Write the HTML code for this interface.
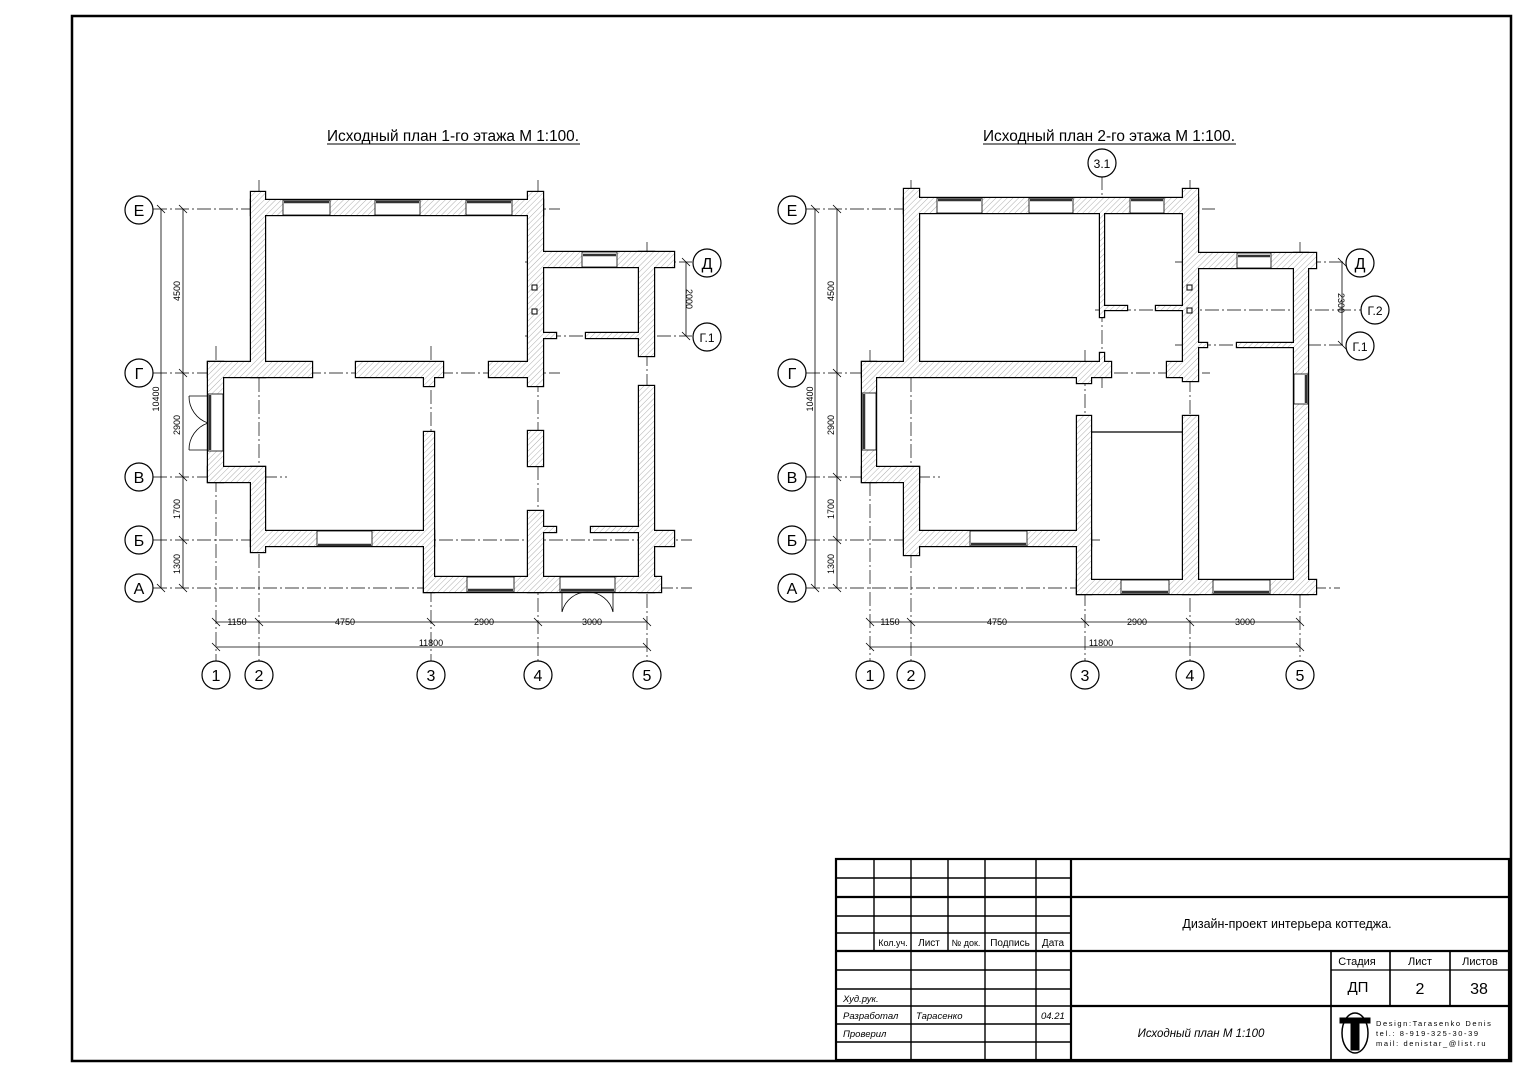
<!DOCTYPE html>
<html><head><meta charset="utf-8"><style>
html,body{margin:0;padding:0;background:#fff;}
svg{display:block;}
text{font-family:"Liberation Sans","DejaVu Sans",sans-serif;fill:#000;}
</style></head><body>
<svg width="1528" height="1080" viewBox="0 0 1528 1080" xmlns="http://www.w3.org/2000/svg">
<defs>
<pattern id="h" width="4" height="4" patternUnits="userSpaceOnUse" patternTransform="rotate(45)">
<rect width="4" height="4" fill="#fff"/><line x1="0" y1="0" x2="0" y2="4" stroke="#9a9a9a" stroke-width="0.8"/>
</pattern>
</defs>
<rect x="72" y="16" width="1439" height="1045" fill="none" stroke="#000" stroke-width="2.5"/>

<text x="453" y="141" font-size="15.5" text-anchor="middle" textLength="252" lengthAdjust="spacingAndGlyphs">Исходный план 1-го этажа М 1:100.</text>
<line x1="327" y1="144" x2="580" y2="144" stroke="#000" stroke-width="1"/>
<text x="1109" y="141" font-size="15.5" text-anchor="middle" textLength="252" lengthAdjust="spacingAndGlyphs">Исходный план 2-го этажа М 1:100.</text>
<line x1="983" y1="144" x2="1236" y2="144" stroke="#000" stroke-width="1"/>

<!-- ============ PLAN 1 grid ============ -->
<g stroke="#000" stroke-width="0.7" stroke-dasharray="14,3,2,3" fill="none">
<line x1="216" y1="346" x2="216" y2="662"/>
<line x1="259" y1="180" x2="259" y2="662"/>
<line x1="431" y1="346" x2="431" y2="662"/>
<line x1="538" y1="180" x2="538" y2="662"/>
<line x1="647" y1="242" x2="647" y2="662"/>
<line x1="153" y1="209" x2="560" y2="209"/>
<line x1="525" y1="262" x2="692" y2="262"/>
<line x1="525" y1="336" x2="692" y2="336"/>
<line x1="153" y1="373" x2="560" y2="373"/>
<line x1="153" y1="477" x2="287" y2="477"/>
<line x1="153" y1="540" x2="692" y2="540"/>
<line x1="153" y1="588" x2="692" y2="588"/>
</g>
<g stroke="#000" stroke-width="0.8" fill="none">
<line x1="161" y1="209" x2="161" y2="588"/>
<line x1="183" y1="209" x2="183" y2="588"/>
<line x1="216" y1="622" x2="647" y2="622"/>
<line x1="216" y1="647" x2="647" y2="647"/>
<line x1="686" y1="262" x2="686" y2="336"/>
<path d="M157 205l8 8M179 205l8 8M179 369l8 8M179 473l8 8M179 536l8 8M157 584l8 8M179 584l8 8M212 618l8 8M255 618l8 8M427 618l8 8M534 618l8 8M643 618l8 8M212 643l8 8M643 643l8 8M682 258l8 8M682 332l8 8"/>
</g>
<g font-size="9">
<text transform="translate(180,291) rotate(-90)" text-anchor="middle">4500</text>
<text transform="translate(180,425) rotate(-90)" text-anchor="middle">2900</text>
<text transform="translate(180,509) rotate(-90)" text-anchor="middle">1700</text>
<text transform="translate(180,564) rotate(-90)" text-anchor="middle">1300</text>
<text transform="translate(159,399) rotate(-90)" text-anchor="middle">10400</text>
<text transform="translate(686,299) rotate(90)" text-anchor="middle">2000</text>
<text x="237" y="625" text-anchor="middle">1150</text>
<text x="345" y="625" text-anchor="middle">4750</text>
<text x="484" y="625" text-anchor="middle">2900</text>
<text x="592" y="625" text-anchor="middle">3000</text>
<text x="431" y="646" text-anchor="middle">11800</text>
</g>
<g fill="#fff" stroke="#000" stroke-width="1.2">
<circle cx="139" cy="210" r="14"/><circle cx="139" cy="373" r="14"/><circle cx="139" cy="477" r="14"/><circle cx="139" cy="540" r="14"/><circle cx="139" cy="588" r="14"/>
<circle cx="707" cy="263" r="14"/><circle cx="707" cy="337" r="14"/>
<circle cx="216" cy="675" r="14"/><circle cx="259" cy="675" r="14"/><circle cx="431" cy="675" r="14"/><circle cx="538" cy="675" r="14"/><circle cx="647" cy="675" r="14"/>
</g>
<g font-size="16" text-anchor="middle">
<text x="139" y="216">Е</text><text x="139" y="379">Г</text><text x="139" y="483">В</text><text x="139" y="546">Б</text><text x="139" y="594">А</text>
<text x="707" y="269">Д</text><text x="707" y="342" font-size="12">Г.1</text>
<text x="216" y="681">1</text><text x="259" y="681">2</text><text x="431" y="681">3</text><text x="538" y="681">4</text><text x="647" y="681">5</text>
</g>
<!-- walls plan 1 -->
<g id="w1">
<rect x="251" y="192" width="14" height="185"/>
<rect x="251" y="200" width="292" height="15"/>
<rect x="528" y="192" width="15" height="194"/>
<rect x="543" y="252" width="131" height="15"/>
<rect x="639" y="252" width="15" height="104"/>
<rect x="543" y="333" width="13" height="5"/>
<rect x="586" y="333" width="53" height="5"/>
<rect x="208" y="362" width="104" height="15"/>
<rect x="208" y="362" width="15" height="120"/>
<rect x="356" y="362" width="87" height="15"/>
<rect x="424" y="377" width="10" height="9"/>
<rect x="489" y="362" width="39" height="15"/>
<rect x="208" y="467" width="57" height="15"/>
<rect x="251" y="467" width="14" height="85"/>
<rect x="251" y="531" width="183" height="15"/>
<rect x="424" y="432" width="10" height="160"/>
<rect x="424" y="577" width="237" height="15"/>
<rect x="528" y="511" width="15" height="81"/>
<rect x="543" y="527" width="13" height="5"/>
<rect x="528" y="431" width="15" height="35"/>
<rect x="639" y="386" width="15" height="206"/>
<rect x="654" y="531" width="20" height="15"/>
<rect x="591" y="527" width="48" height="5"/>
</g>
<use href="#w1" fill="none" stroke="#000" stroke-width="2.4"/>
<use href="#w1" fill="url(#h)" stroke="none"/>
<g fill="#fff" stroke="#000" stroke-width="0.8">
<rect x="283" y="200" width="47" height="15"/><rect x="375" y="200" width="45" height="15"/><rect x="466" y="200" width="46" height="15"/>
<rect x="582" y="252" width="35" height="15"/>
<rect x="317" y="531" width="55" height="15"/>
<rect x="467" y="577" width="47" height="15"/>
<rect x="560" y="577" width="55" height="15"/>
<rect x="208" y="394" width="15" height="57"/>
</g>
<g stroke="#333" stroke-width="2.5">
<line x1="284" y1="202" x2="329" y2="202"/><line x1="376" y1="202" x2="419" y2="202"/><line x1="467" y1="202" x2="511" y2="202"/>
<line x1="583" y1="255" x2="616" y2="255"/>
<line x1="318" y1="545" x2="371" y2="545"/>
<line x1="468" y1="590" x2="513" y2="590"/>
<line x1="561" y1="590" x2="614" y2="590"/>
<line x1="210" y1="395" x2="210" y2="450"/>
</g>
<g fill="#fff" stroke="#000" stroke-width="1">
<rect x="532" y="285" width="5" height="5"/><rect x="532" y="309" width="5" height="5"/>
</g>
<g fill="none" stroke="#000" stroke-width="0.8">
<path d="M562 592v20M613 592v20M562 612a26 26 0 0 1 26-20M613 612a26 26 0 0 0-25-20"/>
<path d="M208 396h-19M208 450h-19M189 396a28 28 0 0 0 19 27M189 450a28 28 0 0 1 19-27"/>
</g>

<!-- ============ PLAN 2 grid ============ -->
<g stroke="#000" stroke-width="0.7" stroke-dasharray="14,3,2,3" fill="none">
<line x1="870" y1="350" x2="870" y2="662"/>
<line x1="911" y1="180" x2="911" y2="662"/>
<line x1="1085" y1="350" x2="1085" y2="662"/>
<line x1="1102" y1="176" x2="1102" y2="390"/>
<line x1="1190" y1="180" x2="1190" y2="662"/>
<line x1="1300" y1="242" x2="1300" y2="662"/>
<line x1="806" y1="209" x2="1215" y2="209"/>
<line x1="1175" y1="262" x2="1345" y2="262"/>
<line x1="1095" y1="310" x2="1361" y2="310"/>
<line x1="1175" y1="345" x2="1345" y2="345"/>
<line x1="806" y1="373" x2="1210" y2="373"/>
<line x1="806" y1="477" x2="940" y2="477"/>
<line x1="806" y1="540" x2="1100" y2="540"/>
<line x1="806" y1="588" x2="1340" y2="588"/>
</g>
<g stroke="#000" stroke-width="0.8" fill="none">
<line x1="815" y1="209" x2="815" y2="588"/>
<line x1="837" y1="209" x2="837" y2="588"/>
<line x1="870" y1="622" x2="1300" y2="622"/>
<line x1="870" y1="647" x2="1300" y2="647"/>
<line x1="1342" y1="262" x2="1342" y2="345"/>
<path d="M811 205l8 8M833 205l8 8M833 369l8 8M833 473l8 8M833 536l8 8M811 584l8 8M833 584l8 8M866 618l8 8M907 618l8 8M1081 618l8 8M1186 618l8 8M1296 618l8 8M866 643l8 8M1296 643l8 8M1338 258l8 8M1338 341l8 8"/>
</g>
<g font-size="9">
<text transform="translate(834,291) rotate(-90)" text-anchor="middle">4500</text>
<text transform="translate(834,425) rotate(-90)" text-anchor="middle">2900</text>
<text transform="translate(834,509) rotate(-90)" text-anchor="middle">1700</text>
<text transform="translate(834,564) rotate(-90)" text-anchor="middle">1300</text>
<text transform="translate(813,399) rotate(-90)" text-anchor="middle">10400</text>
<text transform="translate(1338,303) rotate(90)" text-anchor="middle">2300</text>
<text x="890" y="625" text-anchor="middle">1150</text>
<text x="997" y="625" text-anchor="middle">4750</text>
<text x="1137" y="625" text-anchor="middle">2900</text>
<text x="1245" y="625" text-anchor="middle">3000</text>
<text x="1101" y="646" text-anchor="middle">11800</text>
</g>
<g fill="#fff" stroke="#000" stroke-width="1.2">
<circle cx="792" cy="210" r="14"/><circle cx="792" cy="373" r="14"/><circle cx="792" cy="477" r="14"/><circle cx="792" cy="540" r="14"/><circle cx="792" cy="588" r="14"/>
<circle cx="1360" cy="263" r="14"/><circle cx="1375" cy="310" r="14"/><circle cx="1360" cy="346" r="14"/><circle cx="1102" cy="163" r="14"/>
<circle cx="870" cy="675" r="14"/><circle cx="911" cy="675" r="14"/><circle cx="1085" cy="675" r="14"/><circle cx="1190" cy="675" r="14"/><circle cx="1300" cy="675" r="14"/>
</g>
<g font-size="16" text-anchor="middle">
<text x="792" y="216">Е</text><text x="792" y="379">Г</text><text x="792" y="483">В</text><text x="792" y="546">Б</text><text x="792" y="594">А</text>
<text x="1360" y="269">Д</text><text x="1375" y="315" font-size="12">Г.2</text><text x="1360" y="351" font-size="12">Г.1</text><text x="1102" y="168" font-size="12">3.1</text>
<text x="870" y="681">1</text><text x="911" y="681">2</text><text x="1085" y="681">3</text><text x="1190" y="681">4</text><text x="1300" y="681">5</text>
</g>
<g id="w2">
<rect x="904" y="189" width="15" height="187"/>
<rect x="904" y="198" width="294" height="15"/>
<rect x="1183" y="189" width="15" height="192"/>
<rect x="1198" y="253" width="118" height="15"/>
<rect x="1294" y="253" width="14" height="341"/>
<rect x="1100" y="213" width="4" height="104"/>
<rect x="1104" y="306" width="23" height="4"/>
<rect x="1156" y="306" width="27" height="4"/>
<rect x="1198" y="343" width="9" height="4"/>
<rect x="1237" y="343" width="57" height="4"/>
<rect x="862" y="362" width="249" height="15"/>
<rect x="1100" y="353" width="4" height="9"/>
<rect x="1077" y="377" width="14" height="6"/>
<rect x="1167" y="362" width="16" height="15"/>
<rect x="862" y="362" width="14" height="120"/>
<rect x="862" y="467" width="57" height="15"/>
<rect x="904" y="467" width="15" height="88"/>
<rect x="904" y="531" width="187" height="15"/>
<rect x="1077" y="416" width="14" height="178"/>
<rect x="1183" y="416" width="15" height="178"/>
<rect x="1077" y="580" width="239" height="14"/>
</g>
<use href="#w2" fill="none" stroke="#000" stroke-width="2.4"/>
<use href="#w2" fill="url(#h)" stroke="none"/>
<line x1="1091" y1="432" x2="1183" y2="432" stroke="#000" stroke-width="1.2"/>
<g fill="#fff" stroke="#000" stroke-width="0.8">
<rect x="937" y="198" width="45" height="15"/><rect x="1029" y="198" width="44" height="15"/><rect x="1130" y="198" width="34" height="15"/>
<rect x="1237" y="253" width="34" height="15"/>
<rect x="970" y="531" width="57" height="15"/>
<rect x="1121" y="580" width="48" height="14"/><rect x="1213" y="580" width="57" height="14"/>
<rect x="862" y="393" width="14" height="57"/>
<rect x="1294" y="374" width="14" height="30"/>
</g>
<g stroke="#333" stroke-width="2.5">
<line x1="938" y1="200" x2="981" y2="200"/><line x1="1030" y1="200" x2="1072" y2="200"/><line x1="1131" y1="200" x2="1163" y2="200"/>
<line x1="1238" y1="256" x2="1270" y2="256"/>
<line x1="971" y1="544" x2="1026" y2="544"/>
<line x1="1122" y1="592" x2="1168" y2="592"/><line x1="1214" y1="592" x2="1269" y2="592"/>
<line x1="864" y1="394" x2="864" y2="449"/>
<line x1="1306" y1="375" x2="1306" y2="403"/>
</g>
<g fill="#fff" stroke="#000" stroke-width="1">
<rect x="1187" y="285" width="5" height="5"/><rect x="1187" y="308" width="5" height="5"/>
</g>

<!-- ============ TITLE BLOCK ============ -->
<g stroke="#000" fill="none">
<rect x="836" y="859" width="673" height="201" stroke-width="2.2"/>
<line x1="1071" y1="859" x2="1071" y2="1060" stroke-width="2.2"/>
<line x1="836" y1="897" x2="1509" y2="897" stroke-width="2.2"/>
<line x1="836" y1="951" x2="1509" y2="951" stroke-width="2.2"/>
<line x1="1071" y1="1006" x2="1509" y2="1006" stroke-width="2.2"/>
<line x1="1331" y1="951" x2="1331" y2="1060" stroke-width="1.6"/>
<line x1="1390" y1="951" x2="1390" y2="1006" stroke-width="1.6"/>
<line x1="1450" y1="951" x2="1450" y2="1006" stroke-width="1.6"/>
<line x1="1331" y1="970" x2="1509" y2="970" stroke-width="1.2"/>
<g stroke-width="1.4">
<line x1="874" y1="859" x2="874" y2="951"/><line x1="948" y1="859" x2="948" y2="951"/>
<line x1="911" y1="859" x2="911" y2="1060"/><line x1="985" y1="859" x2="985" y2="1060"/><line x1="1036" y1="859" x2="1036" y2="1060"/>
<line x1="836" y1="878" x2="1071" y2="878"/><line x1="836" y1="916" x2="1071" y2="916"/><line x1="836" y1="933" x2="1071" y2="933"/>
<line x1="836" y1="970" x2="1071" y2="970"/><line x1="836" y1="989" x2="1071" y2="989"/><line x1="836" y1="1006" x2="1071" y2="1006"/><line x1="836" y1="1024" x2="1071" y2="1024"/><line x1="836" y1="1042" x2="1071" y2="1042"/>
</g>
</g>
<g font-size="10" text-anchor="middle">
<text x="893" y="946" font-size="9">Кол.уч.</text><text x="929" y="946">Лист</text><text x="966" y="946" font-size="9">№ док.</text><text x="1010" y="946">Подпись</text><text x="1053" y="946">Дата</text>
</g>
<g font-size="9.5" font-style="italic">
<text x="843" y="1002">Худ.рук.</text><text x="843" y="1019">Разработал</text><text x="916" y="1019">Тарасенко</text><text x="1041" y="1019">04.21</text><text x="843" y="1037">Проверил</text>
</g>
<text x="1287" y="928" font-size="12.5" text-anchor="middle">Дизайн-проект интерьера коттеджа.</text>
<text x="1201" y="1037" font-size="11.5" font-style="italic" text-anchor="middle">Исходный план М 1:100</text>
<g text-anchor="middle">
<text x="1357" y="965" font-size="11">Стадия</text><text x="1420" y="965" font-size="11">Лист</text><text x="1480" y="965" font-size="11">Листов</text>
<text x="1358" y="992" font-size="15">ДП</text><text x="1420" y="994" font-size="16">2</text><text x="1479" y="994" font-size="16">38</text>
</g>
<g stroke="#000" fill="none">
<ellipse cx="1355" cy="1033" rx="13" ry="20" stroke-width="1.5"/>
<rect x="1340" y="1018" width="30" height="5" fill="#000"/>
<rect x="1351" y="1018" width="8" height="32" fill="#000"/>
</g>
<g font-size="7.5" letter-spacing="1.6" fill="#333">
<text x="1376" y="1026">Design:Tarasenko Denis</text>
<text x="1376" y="1036">tel.: 8-919-325-30-39</text>
<text x="1376" y="1046">mail: denistar_@list.ru</text>
</g>
</svg>
</body></html>
